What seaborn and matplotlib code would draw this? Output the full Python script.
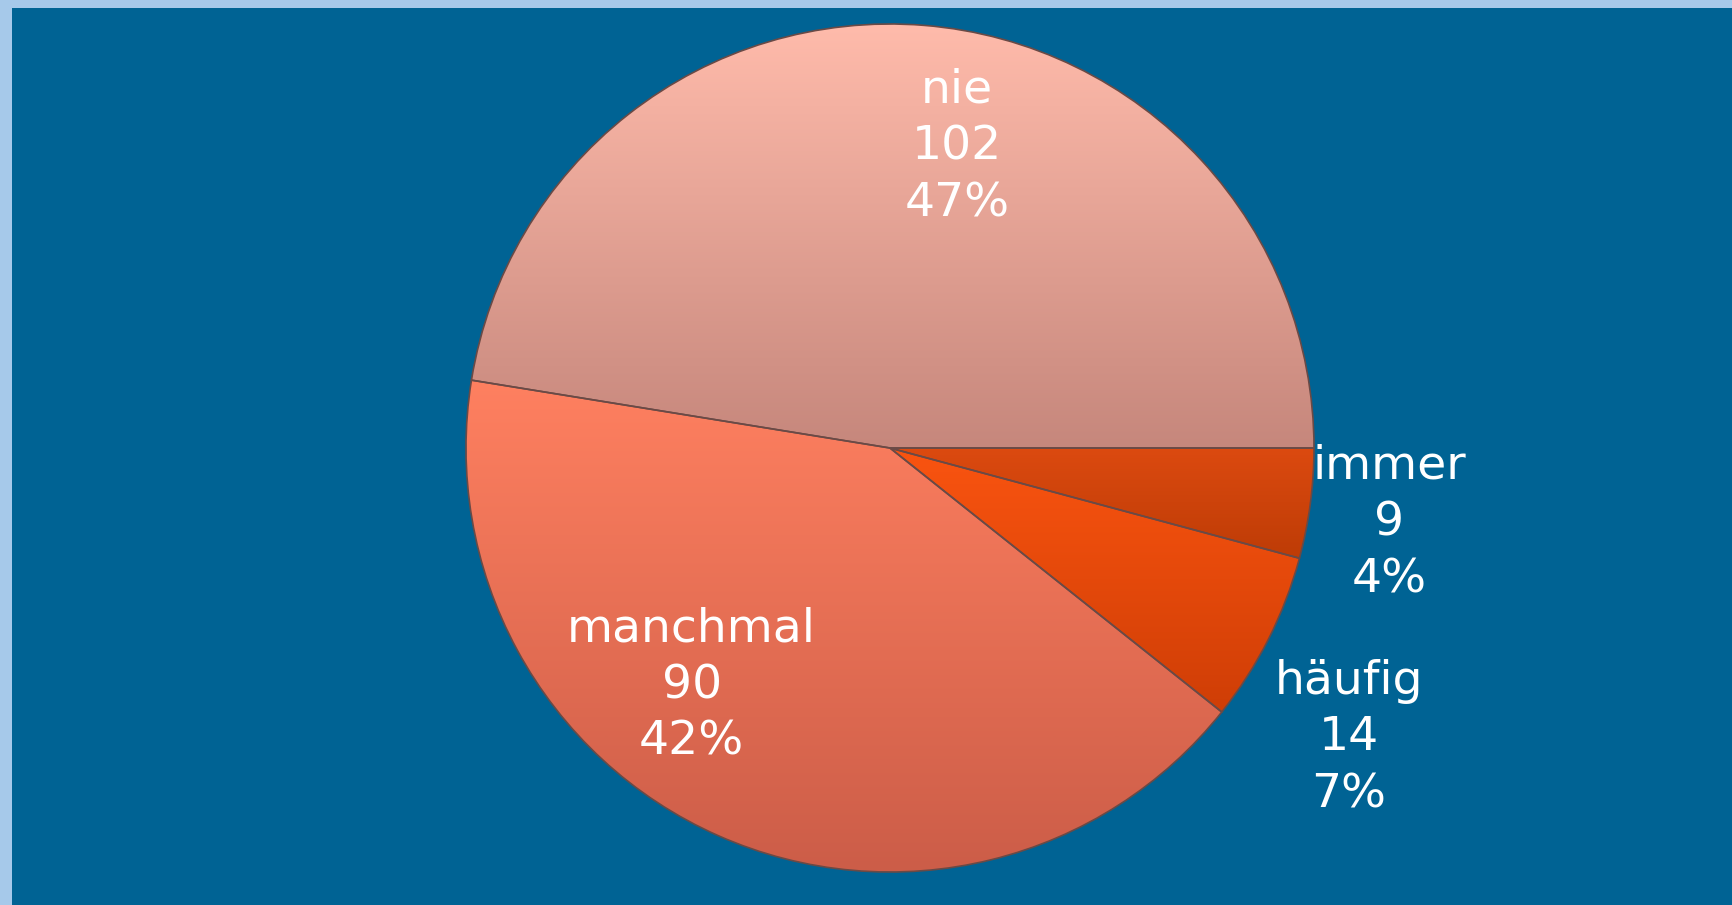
import numpy as np
import matplotlib
matplotlib.use("Agg")
import matplotlib.pyplot as plt
from matplotlib.colors import LinearSegmentedColormap
from matplotlib.patches import Rectangle
import seaborn as sns

# data
categories = ["nie", "manchmal", "häufig", "immer"]
counts = [102, 90, 14, 9]

# style: top / bottom colour of each slice gradient
top_colors = ["#FFBBAB", "#FF8060", "#FA5410", "#DC4A10"]
bottom_colors = ["#C6877C", "#CC5D48", "#CF3E06", "#BE3C06"]
# label placement relative to slice mid-angle: (radius factor, angle shift in deg)
label_place = [(0.727, -8), (0.73, -16), (1.28, -5.5), (1.19, -1)]

BG = "#006394"
FRAME = "#A6C9EA"

sns.set_theme(style="white")
plt.rcParams["font.family"] = ["DejaVu Sans"]

fig = plt.figure(figsize=(17.33, 9.05), dpi=100)
fig.patch.set_facecolor(FRAME)
fig.patches.append(Rectangle((12 / 1733, 0), 1, 1 - 8 / 905,
                             transform=fig.transFigure, facecolor=BG,
                             edgecolor="none", zorder=-10))

cx, cy, r = 890, 448, 424
ax = fig.add_axes([(cx - r) / 1733, (905 - cy - r) / 905, 2 * r / 1733, 2 * r / 905])
ax.set_facecolor("none")
ax.set_zorder(5)

wedges, _ = ax.pie(counts, startangle=0, counterclock=True, radius=1,
                   wedgeprops=dict(facecolor="none", edgecolor="#6A4A46",
                                   linewidth=1.2))
for w in wedges:
    w.set_zorder(3)

total = sum(counts)
for w, top, bot, name, n, (rf, dshift) in zip(wedges, top_colors, bottom_colors,
                                             categories, counts, label_place):
    ext = w.get_path().get_extents()
    cmap = LinearSegmentedColormap.from_list(name, [bot, top])
    grad = np.linspace(1, 0, 256).reshape(-1, 1)
    im = ax.imshow(grad, cmap=cmap, aspect="auto", zorder=2,
                   extent=[-1.05, 1.05, ext.y0, ext.y1], interpolation="bicubic")
    im.set_clip_path(w)
    mid = np.deg2rad((w.theta1 + w.theta2) / 2 + dshift)
    pct = round(100 * n / total)
    ax.text(rf * np.cos(mid), rf * np.sin(mid), f"{name}\n{n}\n{pct}%",
            ha="center", va="center", color="white", fontsize=34,
            linespacing=1.34, zorder=5, clip_on=False)

ax.set_xlim(-1, 1)
ax.set_ylim(-1, 1)
ax.set_aspect("equal")
ax.axis("off")

fig.savefig("out.png", dpi=100, facecolor=fig.get_facecolor())
